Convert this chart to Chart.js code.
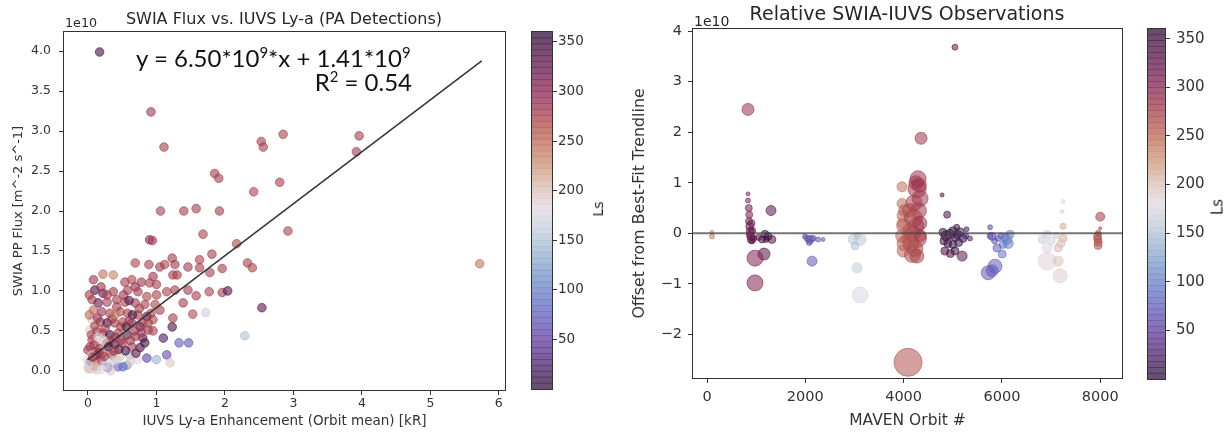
<!DOCTYPE html>
<html>
<head>
<meta charset="utf-8">
<script src="https://cdn.jsdelivr.net/npm/chart.js@4.4.1/dist/chart.umd.min.js"></script>
<style>
body { margin:0; background:#fff; width:1228px; height:433px; overflow:hidden; position:relative; font-family:"DejaVu Sans", sans-serif; color:#262626; }
canvas { position:absolute; top:0; }
.txt { position:absolute; white-space:nowrap; line-height:1; }
.eq { font-family:Lato, "Noto Sans", sans-serif; font-style:normal; font-weight:400; font-synthesis:none; color:#111; font-size:24px; }
.eq span { font-size:0.62em; position:relative; top:-0.6em; }
.rot { transform:translate(-50%,-50%) rotate(-90deg); }
</style>
</head>
<body>
<canvas id="fluxChart" width="520" height="433" style="left:0"></canvas>
<canvas id="fluxBar" width="100" height="433" style="left:520px"></canvas>
<canvas id="offsetChart" width="520" height="433" style="left:620px"></canvas>
<canvas id="offsetBar" width="88" height="433" style="left:1140px"></canvas>

<div class="txt" style="left:284px; top:10.5px; font-size:16px; transform:translateX(-50%)">SWIA Flux vs. IUVS Ly-a (PA Detections)</div>
<div class="txt" style="left:907px; top:4px; font-size:19px; transform:translateX(-50%)">Relative SWIA-IUVS Observations</div>
<div class="txt" style="left:65px; top:17px; font-size:12.7px">1e10</div>
<div class="txt" style="left:694px; top:14px; font-size:14px">1e10</div>
<div class="txt eq" style="left:136px; top:45.5px">y = 6.50*10<span>9</span>*x + 1.41*10<span>9</span></div>
<div class="txt eq" style="right:816px; top:70px">R<span>2</span> = 0.54</div>
<div class="txt rot" style="left:598px; top:209px; font-size:14px">Ls</div>
<div class="txt rot" style="left:1218px; top:207px; font-size:15px">Ls</div>

<script>
// left panel: [IUVS Ly-a enhancement kR, SWIA flux (1e10 m^-2 s^-1), Ls]
const fluxHigh = [
  [0.17,3.99,345],[0.92,3.24,280],[1.11,2.80,276],[1.85,2.47,278],[1.91,2.41,276],
  [2.53,2.87,275],[2.56,2.80,276],[2.85,2.96,272],[2.42,2.24,272],[2.80,2.36,275],
  [3.96,2.94,276],[3.92,2.74,278],[5.72,1.34,245],[1.06,2.00,276],[1.40,2.00,275],
  [1.58,2.03,276],[1.92,2.00,278],[1.68,1.71,272],[0.90,1.64,292],[0.94,1.63,283],
  [2.17,1.59,272],[2.92,1.75,272],[1.81,1.46,276],[2.33,1.35,275],[2.40,1.29,272]
]
const fluxMid = [
  [1.23,1.41,276],[1.12,1.33,272],[1.27,1.33,280],[1.46,1.30,276],[1.63,1.39,272],
  [1.63,1.29,276],[1.78,1.23,275],[1.96,1.28,276],[1.30,1.20,278],[0.95,1.18,283],
  [1.00,1.08,276],[1.46,1.01,275],[1.58,0.94,276],[1.77,0.99,272],[1.96,0.98,276],
  [2.04,1.00,335],[2.54,0.79,330],[1.39,0.85,276],[1.53,0.71,268],[1.72,0.73,165],
  [1.24,0.66,276],[1.23,0.55,340],[1.10,0.41,20],[1.33,0.35,75],[1.47,0.35,70],
  [2.29,0.44,150],[1.15,0.20,60],[1.00,0.14,140],[0.86,0.16,55],[1.20,0.10,195],
  [0.69,1.35,272],[0.89,1.33,276],[1.05,1.30,280],[1.24,1.20,276],[0.54,1.11,276],
  [0.64,1.14,272],[0.78,1.11,283],[0.90,1.10,276],[1.15,0.99,272],[1.27,1.01,276],
  [1.05,0.76,276],[0.95,0.64,268],[0.86,0.68,340],[0.88,0.51,283],[0.80,0.41,330]
]
const fluxLow = [
  [0.08,1.14,283],[0.22,1.21,245],[0.37,1.20,235],[0.10,1.01,345],[0.22,0.97,330],
  [0.37,0.99,280],[0.58,1.01,276],[0.69,1.05,292],[0.73,0.99,276],[0.86,0.93,272],
  [1.00,0.95,276],[0.06,0.89,272],[0.15,0.85,320],[0.28,0.86,276],[0.42,0.89,280],
  [0.54,0.86,272],[0.69,0.85,283],[0.83,0.83,276],[0.98,0.83,272],[0.08,0.76,250],
  [0.20,0.74,283],[0.32,0.72,276],[0.47,0.74,268],[0.58,0.72,280],[0.73,0.70,276],
  [0.06,0.64,195],[0.18,0.61,283],[0.28,0.60,345],[0.39,0.60,276],[0.51,0.61,272],
  [0.64,0.60,280],[0.76,0.55,340],[0.03,0.51,190],[0.13,0.49,276],[0.22,0.47,283],
  [0.32,0.45,350],[0.44,0.47,276],[0.57,0.45,340],[0.69,0.43,280],[0.06,0.39,268],
  [0.15,0.36,185],[0.28,0.35,280],[0.39,0.33,345],[0.51,0.35,283],[0.64,0.30,276],
  [0.76,0.29,340],[0.00,0.26,283],[0.10,0.24,276],[0.22,0.22,272],[0.35,0.20,283],
  [0.47,0.18,195],[0.61,0.20,150],[0.72,0.14,175],[-0.01,0.14,180],[0.07,0.10,276],
  [0.18,0.05,185],[0.30,0.05,200],[0.44,0.05,80],[0.57,0.07,120],[0.00,0.04,190],
  [0.13,0.01,190],[0.51,0.05,85],[0.29,0.04,75],[0.02,0.02,200],[0.05,0.06,175],
  [0.08,0.03,190],[0.04,0.12,283],[0.11,0.15,272],[0.15,0.10,195],[0.20,0.12,276],
  [0.25,0.08,180],[0.12,0.20,345],[0.03,0.30,276],[0.09,0.33,283],[0.17,0.28,276],
  [0.26,0.27,200],[0.05,0.45,272],[0.10,0.56,276],[0.02,0.70,250],[0.14,0.66,288],
  [0.25,0.53,276],[0.33,0.38,280],[0.40,0.42,283],[0.45,0.27,340],[0.36,0.12,160],
  [0.42,0.14,190],[0.55,0.25,345],[0.62,0.38,276],[0.68,0.50,283],[0.48,0.55,276],
  [0.35,0.65,283],[0.42,0.80,276],[0.52,0.95,283],[0.60,0.88,340],[0.28,0.95,276],
  [0.19,1.05,283],[0.02,0.95,276],[0.80,0.60,283],[0.92,0.72,276],[0.83,0.35,345],
  [0.70,0.22,330],[0.62,0.12,195],[0.15,0.42,175],[0.23,0.38,190],[0.06,0.20,200],
  [0.10,0.06,215],[0.20,0.02,180],[0.33,0.00,190],[0.01,0.08,170],[0.07,0.17,280],
  [0.16,0.23,283],[0.24,0.18,276],[0.30,0.30,345],[0.38,0.25,276],[0.48,0.38,280],
  [0.56,0.55,340],[0.65,0.70,345],[0.75,0.78,276],[0.88,0.60,272],[0.95,0.50,276],
  [0.78,0.48,283],[0.60,0.62,283],[0.40,0.70,240]
]
// best fit y = 6.50e9 x + 1.41e9 (flux in 1e10 units)
const fitSlope = 0.650
const fitIntercept = 0.141
const fitRange = [0, 5.75]

// right panel: [MAVEN orbit, offset from fit (1e10), Ls, marker radius]
const offsetEarly = [
  [100,-0.06,240,2.5],[100,0.02,235,2],
  [834,2.45,285,6],[834,0.78,300,2],[834,0.65,305,2.5],[850,0.50,310,3.5],[860,0.37,310,3.5],
  [855,0.24,315,3.5],[870,0.14,315,4],[880,0.04,320,4],[890,-0.06,318,4],[900,-0.12,322,4],
  [860,-0.02,312,3],[905,0.20,312,3.5],[920,0.05,325,3.5],[915,-0.15,330,3],[940,-0.10,325,3.5],
  [1302,0.45,335,5],[1180,-0.02,348,4],[1240,-0.06,352,4],[1320,-0.12,335,4],[1120,-0.12,345,3.5],
  [1160,-0.41,335,6],[977,-0.49,305,8],[977,-0.98,305,8],[1050,-0.08,340,3],[1200,-0.12,356,3],
  [1994,-0.06,55,2.5],[2035,-0.10,62,3],[2096,-0.12,60,4],[2157,-0.10,58,3],[2080,-0.18,60,3],
  [2259,-0.12,65,2.5],[2360,-0.12,70,2],[2137,-0.55,70,5]
]
const offsetMid = [
  [2971,-0.12,155,5],[3060,-0.05,148,3],[3113,-0.12,158,6],[3011,-0.25,150,4],[3052,-0.68,160,5],
  [3113,-1.22,175,8],[4090,-2.55,262,14],[4355,1.88,282,6],
  [3968,0.92,245,5],[3968,0.59,248,5],[3990,0.35,250,6],[4000,0.15,252,7],[3980,-0.05,250,7],
  [4010,-0.20,255,7],[3990,-0.35,252,6],[4020,0.45,255,6],[3970,0.20,245,5],
  [4294,1.08,282,8],[4274,0.88,283,9],[4335,0.69,280,8],[4250,1.00,283,7],[4300,0.45,280,8],
  [4200,0.30,272,9],[4250,0.15,276,8],[4180,0.00,268,8],[4280,-0.10,272,9],[4150,-0.20,265,8],
  [4230,-0.30,268,8],[4180,-0.42,265,8],[4270,-0.45,272,7],[4120,0.05,262,7],[4100,-0.10,258,7],
  [4330,0.20,283,7],[4340,-0.05,280,6],[4120,0.45,265,7],[4210,0.60,272,8],[4320,0.95,283,7]
]
const offsetLate = [
  [4783,0.76,340,2],[4885,0.37,340,3.5],[5045,3.68,328,3],
  [4800,0.02,350,4],[4860,-0.05,355,5],[4945,-0.02,350,5],[5000,0.05,5,4],[5050,-0.08,10,4],
  [5100,-0.02,355,4],[5150,0.03,15,4],[5210,-0.10,15,4],[5350,-0.10,25,2.5],[4840,-0.35,345,4],
  [5045,-0.35,350,4],[5190,-0.45,330,5],[4900,-0.20,350,4],[5000,-0.22,5,4],[5120,-0.18,10,4],
  [5260,-0.05,20,3],[4820,-0.15,345,4],[5080,0.12,355,3],[4950,-0.40,340,4],[5280,0.08,20,2.5],
  [5760,0.12,60,2.5],[5800,-0.06,65,4],[5920,-0.10,70,3],[6105,-0.12,100,5],[6165,-0.02,105,4],
  [6025,-0.22,90,4],[5900,-0.29,75,4],[6005,-0.41,90,4],[5860,-0.65,75,7],[5720,-0.78,70,7],
  [5800,-0.74,72,6],[6060,-0.08,95,4],[5850,-0.15,68,3],[5980,-0.05,80,3],[6130,-0.20,100,5],
  [5760,-0.05,60,3],
  [6820,-0.12,160,4],[6920,-0.02,165,4],[6920,-0.29,175,5],[6920,-0.55,185,9],[7185,-0.84,190,7],
  [7145,-0.55,200,5],[7145,-0.29,205,4],[7245,-0.10,210,4],[7245,0.14,215,3],[7225,0.43,190,2],
  [7245,0.63,185,2],[7000,-0.15,170,4],[7100,-0.05,195,3],[7200,-0.20,200,4],
  [8000,0.33,278,4.5],[8000,0.10,272,1.5],[7960,0.00,270,3],[7945,-0.06,266,4],[7950,-0.12,264,4],
  [7960,-0.18,262,4],[7955,-0.24,260,4]
]

const fluxXTicks = [0, 1, 2, 3, 4, 5, 6]
const fluxYTicks = [0, 0.5, 1, 1.5, 2, 2.5, 3, 3.5, 4]
const orbitTicks = [0, 2000, 4000, 6000, 8000]
const offsetTicks = [-2, -1, 0, 1, 2, 3, 4]
const lsTicks = [50, 100, 150, 200, 250, 300, 350]
const lsLevels = [0,6,12,18,24,30,36,42,48,54,60,66,72,78,84,90,96,102,108,114,120,126,132,138,144,
  150,156,162,168,174,180,186,192,198,204,210,216,222,228,234,240,246,252,258,264,270,276,282,288,
  294,300,306,312,318,324,330,336,342,348,354]

// twilight_shifted, roughly
const lsStops = [
  [0,[47,18,58]],[0.0625,[74,32,105]],[0.125,[92,55,150]],[0.1875,[97,85,180]],
  [0.25,[99,115,195]],[0.3125,[112,145,200]],[0.375,[148,175,205]],[0.4375,[190,203,215]],
  [0.5,[226,217,226]],[0.5625,[218,188,178]],[0.625,[203,150,120]],[0.6875,[190,108,88]],
  [0.75,[170,70,75]],[0.8125,[145,42,80]],[0.875,[112,28,80]],[0.9375,[80,20,68]],[1,[47,18,58]]
]

function lsColor(ls, a) {
  let t = Math.max(0, Math.min(1, ls / 360))
  for (let i = 1; i < lsStops.length; i++) {
    if (t <= lsStops[i][0]) {
      let [t0, c0] = lsStops[i - 1]
      let [t1, c1] = lsStops[i]
      let f = (t - t0) / (t1 - t0)
      let c = c0.map((v, k) => Math.round(v + (c1[k] - v) * f))
      return `rgba(${c[0]},${c[1]},${c[2]},${a})`
    }
  }
}

Chart.defaults.font.family = "'DejaVu Sans', sans-serif"
Chart.defaults.color = '#333'

const frame = {
  id: 'frame',
  afterDraw(chart) {
    let a = chart.chartArea
    let ctx = chart.ctx
    ctx.save()
    ctx.strokeStyle = '#333'
    ctx.lineWidth = 1
    ctx.strokeRect(Math.round(a.left) - 0.5, Math.round(a.top) - 0.5, Math.round(a.width) + 1, Math.round(a.height) + 1)
    ctx.restore()
  }
}

function tickGrid(len) {
  return { display: true, drawOnChartArea: false, drawTicks: true, tickLength: len, color: '#333' }
}

function fixedTicks(list) {
  return s => { s.ticks = list.map(v => ({ value: v })) }
}

const minus = v => v < 0 ? '\u2212' + Math.abs(v) : String(v)

// ---- left scatter
const fluxRows = fluxHigh.concat(fluxMid, fluxLow)
new Chart('fluxChart', {
  type: 'scatter',
  data: {
    datasets: [{
      type: 'line',
      data: fitRange.map(x => ({ x: x, y: fitSlope * x + fitIntercept })),
      borderColor: '#333', borderWidth: 1.5, pointRadius: 0, fill: false
    }, {
      data: fluxRows.map(r => ({ x: r[0], y: r[1] })),
      backgroundColor: fluxRows.map(r => lsColor(r[2], 0.6)),
      borderColor: fluxRows.map(r => lsColor(r[2], 0.65)),
      borderWidth: 1,
      pointRadius: 4.3
    }]
  },
  options: {
    responsive: false, animation: false,
    layout: { padding: { left: 0, top: 32, right: 15, bottom: 0 } },
    plugins: { legend: { display: false }, tooltip: { enabled: false } },
    scales: {
      x: {
        type: 'linear', min: -0.35, max: 6.09,
        afterBuildTicks: fixedTicks(fluxXTicks),
        afterFit: s => { s.height = 43 },
        grid: tickGrid(5), border: { display: false },
        ticks: { font: { size: 12.5 }, padding: 1, maxRotation: 0, callback: v => String(v) },
        title: { display: true, text: 'IUVS Ly-a Enhancement (Orbit mean) [kR]', font: { size: 13.5 }, padding: { top: 0, bottom: 3.4 } }
      },
      y: {
        type: 'linear', min: -0.24, max: 4.24,
        afterBuildTicks: fixedTicks(fluxYTicks),
        afterFit: s => { s.width = 64 },
        grid: tickGrid(5), border: { display: false },
        ticks: { font: { size: 12.5 }, padding: 8, callback: v => v.toFixed(1) },
        title: { display: true, text: 'SWIA PP Flux [m^-2 s^-1]', font: { size: 13 }, padding: { top: 10.7, bottom: 0 } }
      }
    }
  },
  plugins: [frame]
})

// ---- right bubble
const offsetRows = offsetEarly.concat(offsetMid, offsetLate)
new Chart('offsetChart', {
  type: 'bubble',
  data: {
    datasets: [{
      type: 'line',
      data: [{ x: -285, y: 0 }, { x: 8443, y: 0 }],
      borderColor: 'rgba(70,70,70,0.75)', borderWidth: 2, pointRadius: 0, fill: false
    }, {
      data: offsetRows.map(r => ({ x: r[0], y: r[1], r: r[3] })),
      backgroundColor: offsetRows.map(r => lsColor(r[2], 0.55)),
      borderColor: offsetRows.map(r => lsColor(r[2], 0.6)),
      borderWidth: 1
    }]
  },
  options: {
    responsive: false, animation: false,
    layout: { padding: { left: 0, top: 29, right: 18, bottom: 0 } },
    plugins: { legend: { display: false }, tooltip: { enabled: false } },
    scales: {
      x: {
        type: 'linear', min: -285, max: 8443,
        afterBuildTicks: fixedTicks(orbitTicks),
        afterFit: s => { s.height = 55 },
        grid: tickGrid(5), border: { display: false },
        ticks: { font: { size: 14.5 }, padding: 6, maxRotation: 0, callback: v => String(v) },
        title: { display: true, text: 'MAVEN Orbit #', font: { size: 15.5 }, padding: { top: 0, bottom: 3.2 } }
      },
      y: {
        type: 'linear', min: -2.86, max: 4.04,
        afterBuildTicks: fixedTicks(offsetTicks),
        afterFit: s => { s.width = 73 },
        grid: tickGrid(5), border: { display: false },
        ticks: { font: { size: 14.5 }, padding: 6, callback: minus },
        title: { display: true, text: 'Offset from Best-Fit Trendline', font: { size: 15.8 }, padding: { top: 10.4, bottom: 0 } }
      }
    }
  },
  plugins: [frame]
})

// ---- colour bars
function colourBar(id, pad, axisWidth, fontSize, labelPad) {
  new Chart(id, {
    type: 'bar',
    data: {
      labels: ['Ls'],
      datasets: lsLevels.map(v => ({
        data: [[v, v + 6]],
        backgroundColor: lsColor(v + 3, 0.75),
        borderWidth: 0, grouped: false, barPercentage: 1, categoryPercentage: 1
      }))
    },
    options: {
      responsive: false, animation: false,
      layout: { padding: pad },
      plugins: { legend: { display: false }, tooltip: { enabled: false } },
      scales: {
        x: { display: false },
        y: {
          position: 'right', min: 0, max: 360,
          afterBuildTicks: fixedTicks(lsTicks),
          afterFit: s => { s.width = axisWidth },
          grid: tickGrid(5), border: { display: false },
          ticks: { font: { size: fontSize }, padding: labelPad, callback: v => String(v) }
        }
      }
    },
    plugins: [frame]
  })
}

colourBar('fluxBar', { left: 12, top: 32, right: 0, bottom: 44 }, 68, 13.5, 1)
colourBar('offsetBar', { left: 8, top: 29, right: 0, bottom: 54 }, 63, 15, 6)
</script>
</body>
</html>
